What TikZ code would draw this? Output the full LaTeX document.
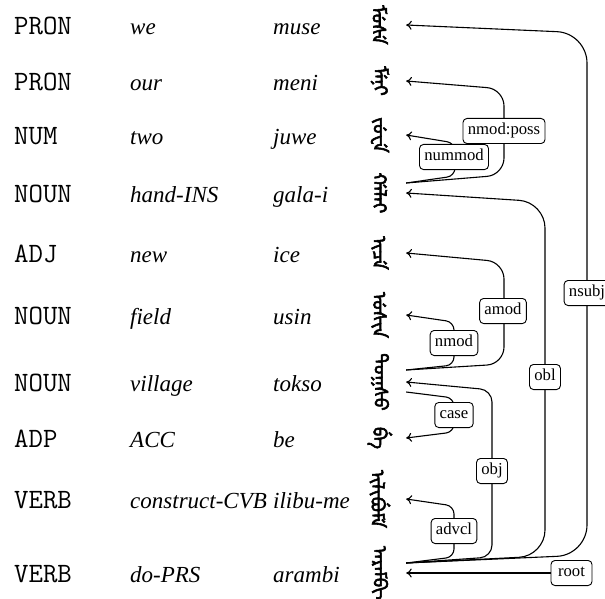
\documentclass[tikz,border=0pt]{standalone}
\usepackage{fontspec}
\setmainfont{Liberation Serif}
\usetikzlibrary{arrows.meta}
\font\mchfont="Noto Sans Mongolian:script=mong;language=MCH;embolden=3" at 19pt
\begin{document}
\begin{tikzpicture}[x=1pt,y=-1pt,
  postag/.style={anchor=base west, inner sep=0pt, font=\fontsize{28}{30}\selectfont\ttfamily},
  gloss/.style={anchor=base west, inner sep=0pt, font=\fontsize{23}{26}\selectfont\itshape},
  mg/.style={inner sep=0pt, minimum width=52pt, font=\mchfont},
  lbl/.style={draw, fill=white, rounded corners=4pt, line width=0.9pt,
    font=\fontsize{16.7}{18}\selectfont, inner xsep=4.8pt, inner ysep=5pt,
    text height=11.5pt, text depth=3.6pt},
  arc/.style={line width=1.1pt, -{To[length=5.5pt,width=9pt]}}]
\useasboundingbox (0,0) rectangle (605,599);
% rows
\foreach \i/\y/\p/\g/\t in {1/25/PRON/we/muse, 2/81/PRON/our/meni, 3/135/NUM/two/juwe,
  4/193/NOUN/hand-INS/gala-i, 5/253/ADJ/new/ice, 6/315/NOUN/field/usin,
  7/382/NOUN/village/tokso, 8/438/ADP/ACC/be, 9/499/VERB/construct-CVB/ilibu-me,
  10/573/VERB/do-PRS/arambi}{
  \node[postag] (p\i) at (14,\y+9.5) {\p};
  \node[gloss] (g\i) at (130,\y+9.5) {\g};
  \node[gloss] (t\i) at (273,\y+9.5) {\t};
}
\node[mg] (m1) at (380,25) {\rotatebox{-90}{^^^^182e^^^^1860^^^^1830^^^^185d}};
\node[mg] (m2) at (380,81) {\rotatebox{-90}{^^^^182e^^^^185d^^^^1828^^^^1873}};
\node[mg] (m3) at (380,135) {\rotatebox{-90}{^^^^1835^^^^1860^^^^1838^^^^185d}};
\node[mg] (m4) at (380,193) {\rotatebox{-90}{^^^^1864^^^^1820^^^^182f^^^^1820^^^^1873}};
\node[mg] (m5) at (380,253) {\rotatebox{-90}{^^^^1873^^^^1834^^^^185d}};
\node[mg] (m6) at (380,315) {\rotatebox{-90}{^^^^1860^^^^1830^^^^1873^^^^1828}};
\node[mg] (m7) at (380,382) {\rotatebox{-90}{^^^^1868^^^^1823^^^^1874^^^^1830^^^^1823}};
\node[mg] (m8) at (380,438) {\rotatebox{-90}{^^^^182a^^^^185d}};
\node[mg] (m9) at (380,499) {\rotatebox{-90}{^^^^1873^^^^182f^^^^1873^^^^182a^^^^1860^^^^182e^^^^185d}};
\node[mg] (m10) at (380,573) {\rotatebox{-90}{^^^^1820^^^^1875^^^^1820^^^^182e^^^^182a^^^^1873}};
% arcs
\draw[arc, rounded corners=8pt] ([yshift=10pt]m4.east) -- (455,176) -- (455,143) -- (m3.east);
\draw[arc, rounded corners=17pt] ([yshift=10pt]m4.east) -- (504,175) -- (504,89) -- (m2.east);
\draw[arc, rounded corners=26pt] ([yshift=10pt]m10.east) -- (545,556) -- (545,202) -- (m4.east);
\draw[arc, rounded corners=30pt] ([yshift=10pt]m10.east) -- (587,555) -- (587,33) -- (m1.east);
\draw[arc, rounded corners=17pt] ([yshift=12pt]m7.east) -- (504,364) -- (504,262) -- (m5.east);
\draw[arc, rounded corners=8pt] ([yshift=12pt]m7.east) -- (454,365) -- (454,322) -- (m6.east);
\draw[arc, rounded corners=8pt] ([yshift=-10pt]m7.east) -- (454,398) -- (454,432) -- (m8.east);
\draw[arc, rounded corners=12pt] ([yshift=10pt]m10.east) -- (492,557) -- (492,390) -- (m7.east);
\draw[arc, rounded corners=8pt] ([yshift=10pt]m10.east) -- (454,557) -- (454,506) -- (m9.east);
% labels
\node[lbl] (l1) at (454,157) {nummod};
\node[lbl] (l2) at (504,131) {nmod:poss};
\node[lbl] (l3) at (545,377) {obl};
\node[lbl] (l4) at (587,293) {nsubj};
\node[lbl] (l5) at (503,311) {amod};
\node[lbl] (l6) at (454,343) {nmod};
\node[lbl] (l7) at (454,415) {case};
\node[lbl] (l8) at (492,471) {obj};
\node[lbl] (l9) at (454,531) {advcl};
\node[lbl, minimum width=41pt] (l10) at (571.5,573) {root};
\draw[arc] (l10) -- (m10.east);
\end{tikzpicture}
\end{document}
